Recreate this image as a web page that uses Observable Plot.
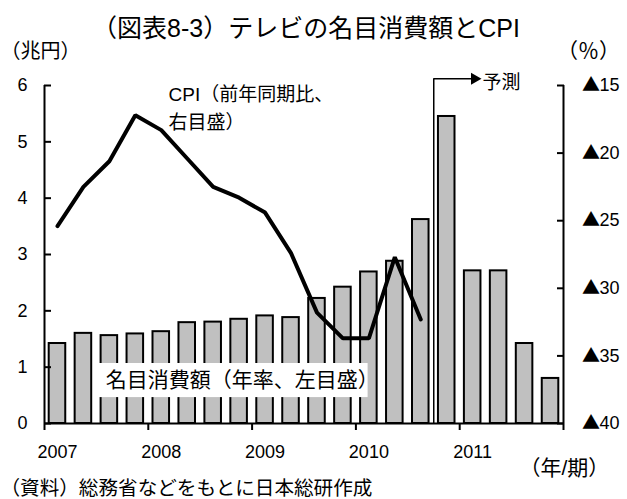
<!DOCTYPE html>
<html>
<head>
<meta charset="utf-8">
<script src="https://cdn.jsdelivr.net/npm/d3@7"></script>
<script src="https://cdn.jsdelivr.net/npm/@observablehq/plot@0.6"></script>
<style>
  html, body { margin: 0; padding: 0; background: #fff; }
  @font-face {
    font-family: "WideTri";
    src: local("Noto Sans CJK JP Regular"), local("NotoSansCJKjp-Regular"), local("Noto Sans CJK JP"), local("DejaVu Sans");
    unicode-range: U+25B2;
  }
</style>
</head>
<body>
<div id="chart"></div>
<script>
// ---- data ----
const quarters = ["2007Q1","2007Q2","2007Q3","2007Q4","2008Q1","2008Q2","2008Q3","2008Q4",
                  "2009Q1","2009Q2","2009Q3","2009Q4","2010Q1","2010Q2","2010Q3","2010Q4",
                  "2011Q1","2011Q2","2011Q3","2011Q4"];
const spending = [1.42,1.60,1.56,1.59,1.63,1.79,1.80,1.85,1.91,1.88,2.22,2.42,2.69,2.88,3.62,5.45,2.71,2.71,1.42,0.80];
const cpi = [-25.4,-22.5,-20.6,-17.2,-18.3,-20.4,-22.5,-23.3,-24.4,-27.4,-31.8,-33.7,-33.7,-27.7,-32.3];
const yearLabels = ["2007","2008","2009","2010","2011"];
const leftTicks = [0,1,2,3,4,5,6];
const rightTicks = [-15,-20,-25,-30,-35,-40];
const forecastFrom = "2010Q4";

const titleText = "（図表8-3）テレビの名目消費額とCPI";
const leftUnit = "（兆円）";
const rightUnit = "（％）";
const xUnit = "（年/期）";
const sourceText = "（資料）総務省などをもとに日本総研作成";
const cpiLabel = "CPI（前年同期比、\n右目盛）";
const barLabel = "名目消費額（年率、左目盛）";
const forecastLabel = "予測";

// ---- derived tables ----
const leftMax = 6;
const cpiDomain = [-40, -15];
const toLeft = c => (c - cpiDomain[0]) / (cpiDomain[1] - cpiDomain[0]) * leftMax;
const fromLeft = v => cpiDomain[0] + v / leftMax * (cpiDomain[1] - cpiDomain[0]);

const barData = quarters.map((q, i) => ({q, i, v: spending[i]}));
const cpiData = cpi.map((v, i) => ({q: quarters[i], i, v}));
const fIdx = quarters.indexOf(forecastFrom);
const yearStarts = yearLabels.map(y => quarters.indexOf(y + "Q1"));

const font = '"WideTri", "Liberation Sans", "Noto Sans CJK JP", sans-serif';

const chart = Plot.plot({
  width: 627,
  height: 499,
  marginLeft: 44,
  marginRight: 64,
  marginTop: 85,
  marginBottom: 76,
  style: {fontFamily: font, fontSize: "18px", color: "black", background: "white"},
  x: {type: "linear", domain: [0, quarters.length]},
  y: {domain: [0, leftMax]},
  marks: [
    // bars
    Plot.rect(barData, {
      x1: d => d.i, x2: d => d.i + 1, y1: 0, y2: "v",
      insetLeft: 4.7, insetRight: 4.7,
      fill: "#c0c0c0", stroke: "black", strokeWidth: 2
    }),
    // bar label box
    Plot.rect([barLabel], {x1: 1.93, x2: 12.47, y1: 0.46, y2: 1.065, fill: "white"}),
    Plot.text([barLabel], {text: d => d, x: 2.36, y: 0.763, textAnchor: "start", lineAnchor: "middle", fontSize: 21}),
    // CPI line
    Plot.line(cpiData, {x: d => d.i + 0.5, y: d => toLeft(d.v), stroke: "black", strokeWidth: 4, strokeLinejoin: "miter"}),
    Plot.text([cpiLabel], {text: d => d, x: 4.78, y: 5.633, textAnchor: "start", lineAnchor: "middle", lineHeight: 1.45, fontSize: 19}),
    // forecast arrow
    Plot.ruleX([fIdx], {y1: 0, y2: 6.12, stroke: "black", strokeWidth: 1.5}),
    Plot.link([fIdx], {x1: d => d, x2: d => d + 1.45, y1: 6.12, y2: 6.12, stroke: "black", strokeWidth: 1.5}),
    Plot.dot([fIdx], {x: d => d + 1.57, y: 6.12, symbol: "triangle", r: 4.5, rotate: 90, fill: "black", stroke: null}),
    Plot.text([forecastLabel], {text: d => d, x: fIdx + 1.88, y: 6.05, textAnchor: "start", lineAnchor: "middle", fontSize: 19}),
    // axes lines
    Plot.ruleX([0, quarters.length], {stroke: "black", strokeWidth: 2}),
    Plot.ruleY([0], {stroke: "black", strokeWidth: 2}),
    // left axis
    Plot.axisY({anchor: "left", ticks: leftTicks, tickSize: -7, tickPadding: 24, strokeWidth: 2,
      tickFormat: d => String(d), fontSize: 18, label: null}),
    // right axis (CPI, mapped onto left scale)
    Plot.axisY({anchor: "right", ticks: rightTicks.map(toLeft), tickSize: -7, tickPadding: 25, strokeWidth: 2,
      tickFormat: v => "▲" + Math.abs(Math.round(fromLeft(v))), fontSize: 18, label: null}),
    // x axis ticks at year boundaries
    Plot.axisX({anchor: "bottom", ticks: [...yearStarts, quarters.length], tickSize: 7, strokeWidth: 2,
      tickFormat: () => "", label: null}),
    // x axis labels centered on Q1
    Plot.axisX({anchor: "bottom", ticks: yearStarts.map(i => i + 0.5), tickSize: 0, tickPadding: 22,
      tickFormat: v => yearLabels[Math.floor(v / 4)], fontSize: 18, label: null}),
    // titles and notes
    Plot.text([titleText], {text: d => d, frameAnchor: "top", dx: 2, dy: -57, lineAnchor: "middle", fontSize: 25}),
    Plot.text([leftUnit], {text: d => d, frameAnchor: "top-left", dx: -44, dy: -34, textAnchor: "start", lineAnchor: "middle", fontSize: 20}),
    Plot.text([rightUnit], {text: d => d, frameAnchor: "top-right", dx: 25, dy: -34, textAnchor: "middle", lineAnchor: "middle", fontSize: 21}),
    Plot.text([xUnit], {text: d => d, frameAnchor: "bottom-right", dx: -44, dy: 45, textAnchor: "start", lineAnchor: "middle", fontSize: 21}),
    Plot.text([sourceText], {text: d => d, frameAnchor: "bottom-left", dx: -44, dy: 65, textAnchor: "start", lineAnchor: "middle", fontSize: 19.6})
  ]
});
document.getElementById("chart").appendChild(chart);
</script>
</body>
</html>
